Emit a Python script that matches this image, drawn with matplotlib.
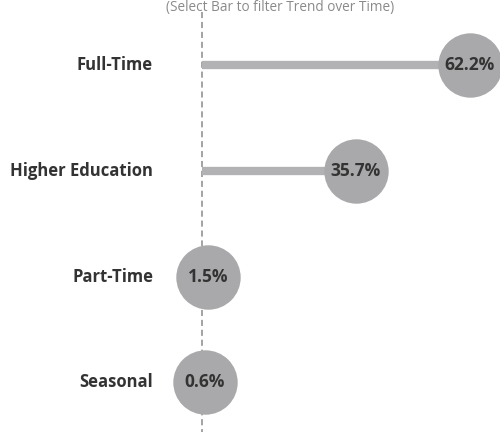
import numpy as np
import matplotlib.pyplot as plt

plt.rcParams['font.family'] = ['Open Sans', 'DejaVu Sans']

categories = ['Full-Time', 'Higher Education', 'Part-Time', 'Seasonal']
values = [62.2, 35.7, 1.5, 0.6]
subtitle = '(Select Bar to filter Trend over Time)'

bar_col = '#b2b2b4'
dot_col = '#a9a9ab'
txt_col = '#333333'


def main():
    fig = plt.figure(figsize=(5, 4.32), dpi=100)
    ax = fig.add_axes([0, 0, 1, 1])
    ax.set_xlim(-46.9, 69.2)
    ax.set_ylim(3.47, -0.615)
    ax.axis('off')

    y = np.arange(len(categories))
    ax.vlines(0, -0.5, 3.6, colors='#8a8a8a', lw=1.1,
              linestyles=(0, (4, 2.5)), zorder=1)
    ax.hlines(y, 0, values, colors=bar_col, lw=6, zorder=2)
    ax.scatter(values, y, s=2150, color=dot_col, zorder=3, linewidths=0)

    for yi, cat, v in zip(y, categories, values):
        ax.text(0.306, yi, cat, transform=ax.get_yaxis_transform(),
                ha='right', va='center', fontsize=12, fontweight='bold',
                color=txt_col)
        ax.text(v, yi, '%.1f%%' % v, ha='center', va='center',
                fontsize=12.5, fontweight='bold', color=txt_col, zorder=4)

    fig.text(0.56, 0.983, subtitle, ha='center', va='center',
             fontsize=9.8, color='#8a8a8a')

    fig.savefig('out.png', dpi=100)


if __name__ == '__main__':
    main()
